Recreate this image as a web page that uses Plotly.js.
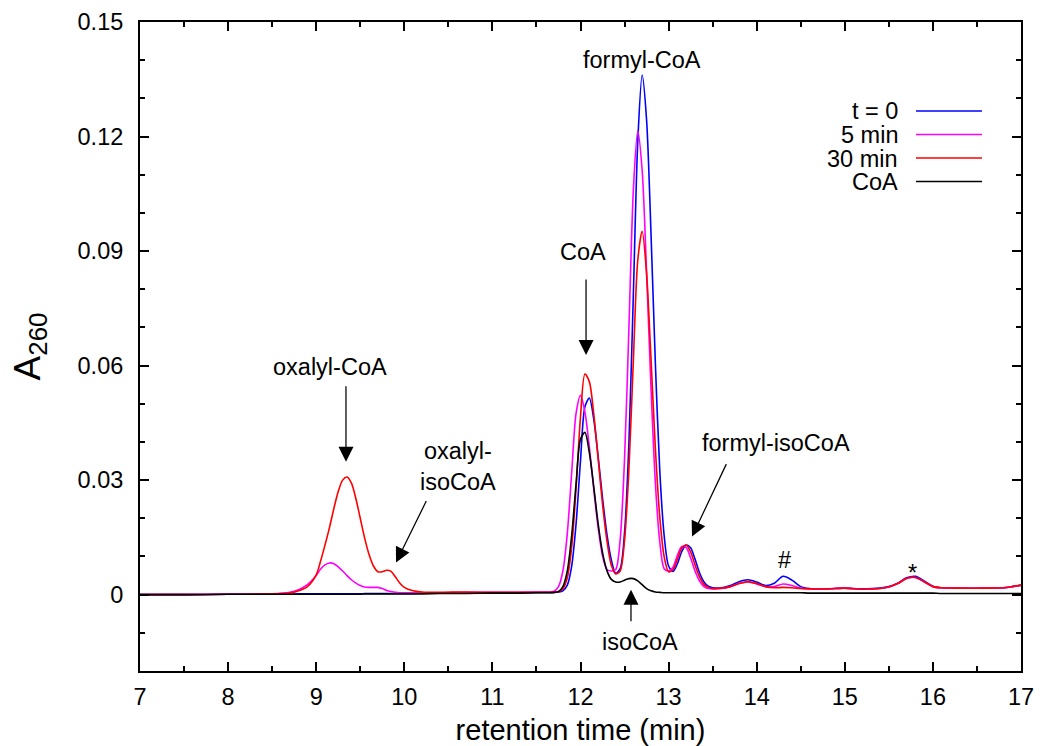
<!DOCTYPE html>
<html>
<head>
<meta charset="utf-8">
<script src="https://cdn.plot.ly/plotly-3.0.1.min.js"></script>
<style>html,body{margin:0;padding:0;background:#fff;}#chart{width:1044px;height:746px;}</style>
</head>
<body>
<div id="chart"></div>
<script>
// retention time grid (min)
const rt = [7.0, 7.5, 8.0, 8.5, 8.7, 8.8, 8.9,
  9.0, 9.05, 9.1, 9.15, 9.2, 9.25, 9.3, 9.35, 9.4, 9.45, 9.5, 9.55, 9.6, 9.65, 9.7, 9.75, 9.8, 9.85, 9.9, 9.95, 10.0,
  10.1, 10.2, 10.4, 10.7, 11.0, 11.3, 11.5, 11.6,
  11.65, 11.7, 11.75, 11.8, 11.85, 11.9, 11.95, 12.0, 12.05, 12.1, 12.15, 12.2, 12.25, 12.3, 12.35, 12.4, 12.45, 12.5,
  12.55, 12.6, 12.65, 12.7, 12.75, 12.8, 12.85, 12.9, 12.95, 13.0, 13.05, 13.1, 13.15, 13.2, 13.25, 13.3, 13.35, 13.4, 13.45, 13.5,
  13.6, 13.7, 13.8, 13.9, 14.0, 14.1, 14.2, 14.3, 14.4, 14.5, 14.6, 14.8, 15.0, 15.2, 15.4, 15.5, 15.6, 15.7, 15.8, 15.9,
  16.0, 16.1, 16.3, 16.6, 16.8, 16.9, 17.0];

// A260, t = 0
const a260_t0 = [0, 0, 0.0001, 0.0001, 0.0001, 0.0002, 0.0002,
  0.0002, 0.0002, 0.0002, 0.0002, 0.0002, 0.0002, 0.0002, 0.0002, 0.0002, 0.0002, 0.0002, 0.0003, 0.0003, 0.0003, 0.0003, 0.0003, 0.0003, 0.0003, 0.0003, 0.0003, 0.0003,
  0.0003, 0.0004, 0.0004, 0.0005, 0.0005, 0.0005, 0.0006, 0.0006,
  0.0006, 0.0006, 0.0007, 0.0010, 0.0025, 0.0075, 0.0186, 0.0351, 0.0492, 0.0515, 0.0460, 0.0363, 0.0253, 0.0158, 0.0091, 0.0056, 0.0068, 0.0163,
  0.0401, 0.0787, 0.1187, 0.1361, 0.1244, 0.0948, 0.0605, 0.0324, 0.0154, 0.0075, 0.0061, 0.0081, 0.0113, 0.0130, 0.0123, 0.0093, 0.0058, 0.0034, 0.0022, 0.0018,
  0.0018, 0.0024, 0.0034, 0.0039, 0.0033, 0.0024, 0.0030, 0.0048, 0.0038, 0.0021, 0.0016, 0.0015, 0.0017, 0.0015, 0.0017, 0.0021, 0.0030, 0.0044, 0.0048, 0.0036,
  0.0022, 0.0018, 0.0017, 0.0017, 0.0018, 0.0021, 0.0025];

// A260, 5 min
const a260_5min = [0, 0, 0.0001, 0.0002, 0.0006, 0.0013, 0.0026,
  0.0050, 0.0067, 0.0078, 0.0083, 0.0081, 0.0073, 0.0062, 0.0050, 0.0039, 0.0030, 0.0024, 0.0020, 0.0019, 0.0019, 0.0019, 0.0016, 0.0011, 0.0008, 0.0006, 0.0005, 0.0005,
  0.0005, 0.0005, 0.0005, 0.0006, 0.0006, 0.0006, 0.0006, 0.0007,
  0.0007, 0.0009, 0.0021, 0.0062, 0.0160, 0.0320, 0.0475, 0.0522, 0.0479, 0.0387, 0.0277, 0.0176, 0.0101, 0.0066, 0.0062, 0.0066, 0.0143, 0.0356,
  0.0702, 0.1060, 0.1215, 0.1111, 0.0847, 0.0542, 0.0292, 0.0138, 0.0068, 0.0062, 0.0072, 0.0103, 0.0126, 0.0123, 0.0096, 0.0062, 0.0036, 0.0021, 0.0016, 0.0015,
  0.0016, 0.0021, 0.0029, 0.0033, 0.0028, 0.0021, 0.0021, 0.0028, 0.0024, 0.0017, 0.0015, 0.0015, 0.0017, 0.0014, 0.0016, 0.0020, 0.0029, 0.0042, 0.0045, 0.0034,
  0.0021, 0.0018, 0.0017, 0.0017, 0.0018, 0.0021, 0.0024];

// A260, 30 min
const a260_30min = [0, 0, 0.0001, 0.0002, 0.0004, 0.0010, 0.0021,
  0.0052, 0.0088, 0.0130, 0.0175, 0.0225, 0.0270, 0.0300, 0.0308, 0.0292, 0.0252, 0.0200, 0.0148, 0.0105, 0.0075, 0.0060, 0.0060, 0.0064, 0.0061, 0.0046, 0.0030, 0.0019,
  0.0010, 0.0007, 0.0006, 0.0007, 0.0006, 0.0006, 0.0006, 0.0006,
  0.0006, 0.0006, 0.0008, 0.0015, 0.0044, 0.0125, 0.0279, 0.0466, 0.0578, 0.0558, 0.0474, 0.0356, 0.0237, 0.0141, 0.0077, 0.0054, 0.0062, 0.0142,
  0.0331, 0.0614, 0.0876, 0.0952, 0.0841, 0.0619, 0.0383, 0.0203, 0.0099, 0.0060, 0.0066, 0.0093, 0.0122, 0.0130, 0.0112, 0.0078, 0.0047, 0.0027, 0.0019, 0.0016,
  0.0017, 0.0021, 0.0029, 0.0034, 0.0029, 0.0021, 0.0018, 0.0019, 0.0018, 0.0016, 0.0015, 0.0015, 0.0017, 0.0014, 0.0016, 0.0020, 0.0029, 0.0042, 0.0045, 0.0034,
  0.0021, 0.0018, 0.0017, 0.0017, 0.0018, 0.0021, 0.0025];

// A260, CoA standard
const a260_coa = [0, 0, 0.0001, 0.0001, 0.0001, 0.0001, 0.0001,
  0.0001, 0.0001, 0.0001, 0.0001, 0.0001, 0.0001, 0.0001, 0.0001, 0.0001, 0.0001, 0.0001, 0.0002, 0.0002, 0.0002, 0.0002, 0.0002, 0.0002, 0.0002, 0.0002, 0.0002, 0.0002,
  0.0002, 0.0002, 0.0003, 0.0003, 0.0004, 0.0004, 0.0005, 0.0005,
  0.0005, 0.0006, 0.0008, 0.0021, 0.0062, 0.0155, 0.0291, 0.0407, 0.0425, 0.0373, 0.0283, 0.0186, 0.0110, 0.0063, 0.0040, 0.0033, 0.0033, 0.0038,
  0.0042, 0.0042, 0.0036, 0.0026, 0.0016, 0.0010, 0.0007, 0.0006, 0.0005, 0.0005, 0.0005, 0.0005, 0.0005, 0.0005, 0.0005, 0.0005, 0.0005, 0.0005, 0.0005, 0.0005,
  0.0005, 0.0005, 0.0005, 0.0005, 0.0005, 0.0005, 0.0005, 0.0005, 0.0005, 0.0005, 0.0004, 0.0004, 0.0004, 0.0004, 0.0004, 0.0004, 0.0004, 0.0004, 0.0004, 0.0004,
  0.0004, 0.0003, 0.0003, 0.0003, 0.0003, 0.0003, 0.0003];

const seriesNames = ['t = 0', '5 min', '30 min', 'CoA'];
const seriesColors = ['#0000ff', '#ff00ff', '#ff0000', '#000000'];
const seriesValues = [a260_t0, a260_5min, a260_30min, a260_coa];

// peak labels: [text, x, y]
const peakLabels = [
  ['oxalyl-CoA', 9.157, 0.0597],
  ['oxalyl-<br>isoCoA', 10.61, 0.0335],
  ['CoA', 12.03, 0.0898],
  ['formyl-CoA', 12.70, 0.1400],
  ['formyl-isoCoA', 14.22, 0.0398],
  ['isoCoA', 12.675, -0.0123],
  ['#', 14.31, 0.0090],
  ['*', 15.77, 0.0056]
];
// arrows: [tip x, tip y, tail dx px, tail dy px]
const peakArrows = [
  [9.338, 0.0348, 0, -77],
  [9.906, 0.0084, 31, -63],
  [12.063, 0.0628, 0, -77],
  [13.266, 0.0152, 35, -74],
  [12.573, 0.0013, 0, 33]
];

const FONT = '"Liberation Sans", Arial, Helvetica, sans-serif';
const LABEL_SIZE = 23.5;

const traces = seriesValues.map((vals, i) => ({
  x: rt, y: vals, type: 'scatter', mode: 'lines', name: seriesNames[i],
  line: {color: seriesColors[i], width: 1.6, shape: 'spline', smoothing: 0.8},
  showlegend: false, hoverinfo: 'skip'
}));

const annotations = [];
peakLabels.forEach(p => annotations.push({
  text: p[0], x: p[1], y: p[2], xref: 'x', yref: 'y', showarrow: false,
  xanchor: 'center', yanchor: 'middle', font: {family: FONT, size: LABEL_SIZE, color: '#000'}
}));
peakArrows.forEach(a => annotations.push({
  text: '', x: a[0], y: a[1], xref: 'x', yref: 'y', ax: a[2], ay: a[3],
  showarrow: true, arrowhead: 2, arrowsize: 2.4, arrowwidth: 1.25, arrowcolor: '#000'
}));

// manual legend (text left, line sample right)
const shapes = [];
const legendRowY = [0.8629, 0.8267, 0.7904, 0.7542];
seriesNames.forEach((n, i) => {
  annotations.push({
    text: n, xref: 'paper', yref: 'paper', x: 0.8627, y: legendRowY[i],
    xanchor: 'right', yanchor: 'middle', showarrow: false, height: 23,
    font: {family: FONT, size: LABEL_SIZE, color: '#000'}
  });
  shapes.push({
    type: 'line', xref: 'paper', yref: 'paper', x0: 0.8808, x1: 0.9557,
    y0: legendRowY[i], y1: legendRowY[i], line: {color: seriesColors[i], width: 1.6}
  });
});

const axisCommon = {
  showline: true, linewidth: 2, linecolor: '#000', mirror: 'allticks',
  ticks: 'inside', ticklen: 9, tickwidth: 2, tickcolor: '#000',
  showgrid: false, zeroline: false,
  tickfont: {family: FONT, size: LABEL_SIZE, color: '#000'}
};

const layout = {
  width: 1044, height: 746,
  margin: {l: 140, r: 23, t: 22, b: 75},
  paper_bgcolor: '#fff', plot_bgcolor: '#fff',
  font: {family: FONT, color: '#000'},
  showlegend: false,
  xaxis: Object.assign({}, axisCommon, {
    range: [7, 17], dtick: 1, tick0: 7, ticklabelstandoff: 4,
    minor: {dtick: 0.5, ticks: 'inside', ticklen: 5, tickwidth: 2, tickcolor: '#000', showgrid: false},
    title: {text: 'retention time (min)', font: {family: FONT, size: 29, color: '#000'}, standoff: 13}
  }),
  yaxis: Object.assign({}, axisCommon, {
    range: [-0.02, 0.15], dtick: 0.03, tick0: 0, ticklabelstandoff: 10,
    minor: {dtick: 0.01, ticks: 'inside', ticklen: 5, tickwidth: 2, tickcolor: '#000', showgrid: false},
    title: {text: 'A<sub>260</sub>', font: {family: FONT, size: 37, color: '#000'}, standoff: 26}
  }),
  annotations: annotations,
  shapes: shapes
};

Plotly.newPlot('chart', traces, layout, {staticPlot: true, displayModeBar: false});
</script>
</body>
</html>
